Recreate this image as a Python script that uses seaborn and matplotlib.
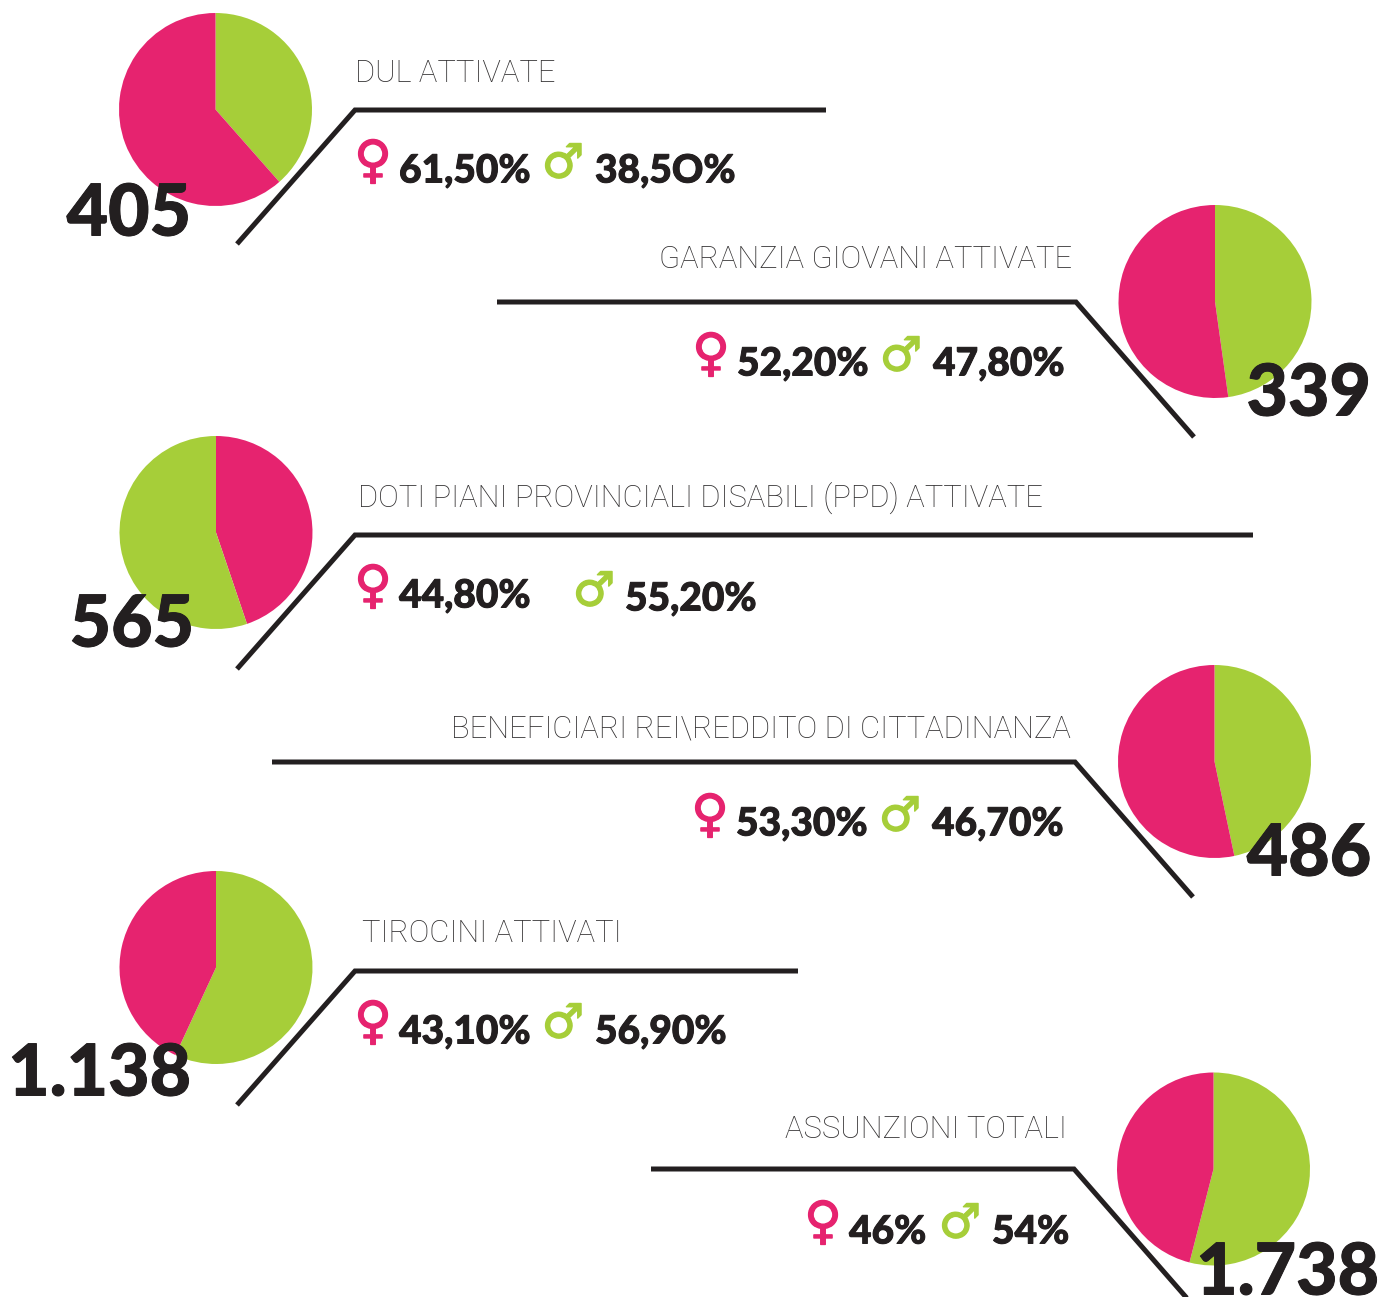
import matplotlib
matplotlib.use("Agg")
import matplotlib.pyplot as plt
import matplotlib.patheffects as pe
import pandas as pd
import seaborn as sns

# values
titles = ["DUL ATTIVATE", "GARANZIA GIOVANI ATTIVATE", "DOTI PIANI PROVINCIALI DISABILI (PPD) ATTIVATE",
          "BENEFICIARI REI\\REDDITO DI CITTADINANZA", "TIROCINI ATTIVATI", "ASSUNZIONI TOTALI"]
totals = ["405", "339", "565", "486", "1.138", "1.738"]
female = [61.5, 52.2, 44.8, 53.3, 43.1, 46.0]
male = [38.5, 47.8, 55.2, 46.7, 56.9, 54.0]
female_labels = ["61,50%", "52,20%", "44,80%", "53,30%", "43,10%", "46%"]
male_labels = ["38,5O%", "47,80%", "55,20%", "46,70%", "56,90%", "54%"]
female_first = [False, False, True, False, False, False]

W, H = 1380, 1297
PINK = "#E6236F"
GREEN = "#A6CE39"
DARK = "#231F20"
sns.set_theme(style="white")
plt.rcParams["font.family"] = ["Lato", "DejaVu Sans"]

# layout in pixels of the reference
centers = [(215.5, 109.5), (1215, 301.5), (216, 532.5), (1214.5, 761.5), (216, 967.5), (1213.5, 1169)]
R = 96.5
paths = [
    ([826, 355, 237], [110, 110, 244]),
    ([497, 1076, 1194], [302, 302, 437]),
    ([1253, 355, 237], [535, 535, 669]),
    ([272, 1075, 1193], [762, 762, 897]),
    ([798, 355, 237], [971, 971, 1105]),
    ([651, 1074, 1192], [1169, 1169, 1304]),
]
title_pos = [(355, 73, "left"), (1072, 259, "right"), (358, 498, "left"),
             (1071, 729, "right"), (362, 933, "left"), (1067, 1129, "right")]
total_pos = [(191, 215, "right"), (1371, 395, "right"), (194, 626, "right"),
             (1371, 855, "right"), (191, 1075, "right"), (1379, 1274, "right")]
f_sym = [(373, 163), (711, 356), (373, 588), (710, 817), (373, 1024), (823, 1224)]
f_txt = [(399, 171), (737, 364), (399, 596), (736, 824), (399, 1032), (849, 1232)]
m_sym = [(563, 165), (901, 358), (594, 593), (900, 818), (563, 1025), (960, 1225)]
m_txt = [(595, 171), (933, 364), (625, 599), (932, 824), (595, 1032), (992, 1232)]

fig = plt.figure(figsize=(W / 100, H / 100), dpi=100, facecolor="white")

# pies first, texts and lines go over them
for i in range(6):
    cx, cy = centers[i]
    pie_ax = fig.add_axes([(cx - R) / W, 1 - (cy + R) / H, 2 * R / W, 2 * R / H])
    if female_first[i]:
        vals, cols = [female[i], male[i]], [PINK, GREEN]
    else:
        vals, cols = [male[i], female[i]], [GREEN, PINK]
    pie_ax.pie(vals, colors=cols, startangle=90, counterclock=False, radius=1.0,
               wedgeprops={"linewidth": 0})
    pie_ax.set_xlim(-1, 1)
    pie_ax.set_ylim(-1, 1)

ax = fig.add_axes([0, 0, 1, 1], facecolor="none")

heavy = [pe.withStroke(linewidth=0.7, foreground=DARK)]
for i in range(6):
    df = pd.DataFrame({"x": paths[i][0], "y": paths[i][1]})
    sns.lineplot(data=df, x="x", y="y", estimator=None, sort=False, ax=ax,
                 color=DARK, linewidth=3.6, solid_joinstyle="miter", solid_capstyle="butt", legend=False)

    x, y, ha = title_pos[i]
    ax.text(x, y, titles[i], fontsize=22.2, fontweight="light", family="Roboto", color="#333132", ha=ha, va="center")
    x, y, ha = total_pos[i]
    ax.text(x, y, totals[i], fontsize=51.5, fontweight="black", color=DARK, ha=ha, va="center", path_effects=heavy)
    ax.text(*f_sym[i], "\u2640", fontsize=37, family="DejaVu Sans", fontweight="bold", color=PINK, ha="center", va="center",
            path_effects=[pe.withStroke(linewidth=1.0, foreground=PINK)])
    ax.text(*f_txt[i], female_labels[i], fontsize=28, fontweight="black", color=DARK, ha="left", va="center", path_effects=heavy)
    ax.text(*m_sym[i], "\u2642", fontsize=34, family="DejaVu Sans", fontweight="bold", color=GREEN, ha="center", va="center",
            path_effects=[pe.withStroke(linewidth=1.0, foreground=GREEN)])
    ax.text(*m_txt[i], male_labels[i], fontsize=28, fontweight="black", color=DARK, ha="left", va="center", path_effects=heavy)

ax.set_xlim(0, W)
ax.set_ylim(H, 0)
ax.axis("off")

fig.savefig("out.png", dpi=100)
